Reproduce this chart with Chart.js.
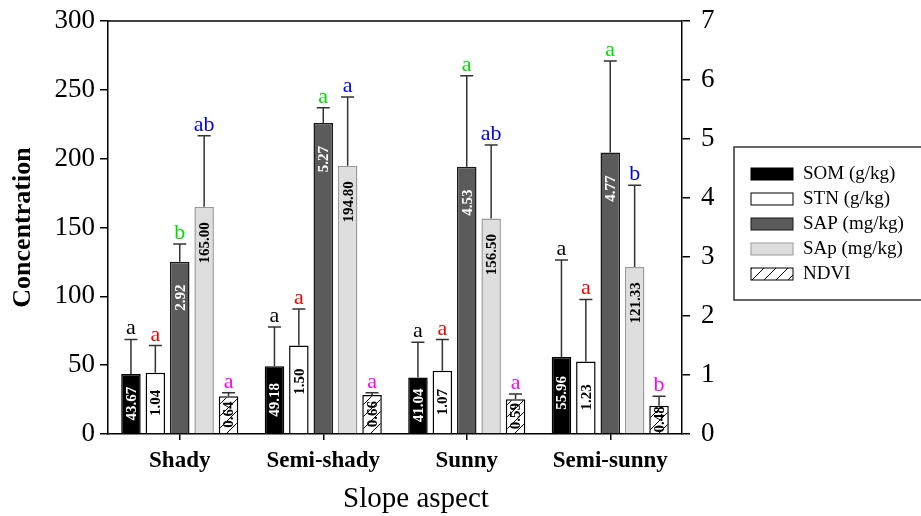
<!DOCTYPE html>
<html>
<head>
<meta charset="utf-8">
<script src="https://cdn.jsdelivr.net/npm/chart.js@4"></script>
<style>
  html, body { margin: 0; padding: 0; background: #fff; }
  #wrap { width: 921px; height: 516px; }
</style>
</head>
<body>
<div id="wrap"><canvas id="chart" width="921" height="516"></canvas></div>
<script>
// data
const categories = ['Shady', 'Semi-shady', 'Sunny', 'Semi-sunny'];

const somValues  = [43.67, 49.18, 41.04, 55.96];
const somErr     = [25.0, 28.5, 25.6, 70.4];
const stnValues  = [1.04, 1.50, 1.07, 1.23];
const stnErr     = [0.46, 0.62, 0.53, 1.05];
const sapValues  = [2.92, 5.27, 4.53, 4.77];
const sapErr     = [0.30, 0.26, 1.54, 1.55];
const sApValues  = [165.00, 194.80, 156.50, 121.33];
const sApErr     = [51.7, 50.0, 53.4, 59.3];
const ndviValues = [0.64, 0.66, 0.59, 0.48];
const ndviErr    = [0.06, 0.04, 0.09, 0.16];

const somLetters  = ['a', 'a', 'a', 'a'];
const stnLetters  = ['a', 'a', 'a', 'a'];
const sapLetters  = ['b', 'a', 'a', 'a'];
const sApLetters  = ['ab', 'a', 'ab', 'b'];
const ndviLetters = ['a', 'a', 'a', 'b'];

const leftTicks  = [0, 50, 100, 150, 200, 250, 300];
const rightTicks = [0, 1, 2, 3, 4, 5, 6, 7];

const serif = '"Liberation Serif", "DejaVu Serif", serif';

// hatch pattern for NDVI
function makeHatch() {
    const c = document.createElement('canvas');
    c.width = 12; c.height = 12;
    const g = c.getContext('2d');
    g.fillStyle = '#fff';
    g.fillRect(0, 0, 12, 12);
    g.strokeStyle = '#000';
    g.lineWidth = 1;
    g.beginPath();
    g.moveTo(0, 12); g.lineTo(12, 0);
    g.moveTo(-3, 3); g.lineTo(3, -3);
    g.moveTo(9, 15); g.lineTo(15, 9);
    g.stroke();
    return document.getElementById('chart').getContext('2d').createPattern(c, 'repeat');
}
const hatch = makeHatch();

const series = [
    { label: 'SOM (g/kg)',  data: somValues,  err: somErr,  letters: somLetters,  axis: 'y',  fill: '#000000', border: '#000000', text: '#fff', letterColor: '#000000' },
    { label: 'STN (g/kg)',  data: stnValues,  err: stnErr,  letters: stnLetters,  axis: 'y1', fill: '#ffffff', border: '#000000', text: '#000', letterColor: '#ff0000' },
    { label: 'SAP (mg/kg)', data: sapValues,  err: sapErr,  letters: sapLetters,  axis: 'y1', fill: '#5b5b5b', border: '#1a1a1a', text: '#fff', letterColor: '#00e000' },
    { label: 'SAp (mg/kg)', data: sApValues,  err: sApErr,  letters: sApLetters,  axis: 'y',  fill: '#dedede', border: '#9a9a9a', text: '#000', letterColor: '#0000ff' },
    { label: 'NDVI',        data: ndviValues, err: ndviErr, letters: ndviLetters, axis: 'y1', fill: hatch,     border: '#000000', text: '#000', letterColor: '#ff00ff' }
];

// error bars, letters, value labels, frame, legend
const decor = {
    id: 'decor',
    afterDatasetsDraw(chart) {
        const ctx = chart.ctx;
        series.forEach((s, i) => {
            const meta = chart.getDatasetMeta(i);
            const scale = chart.scales[s.axis];
            meta.data.forEach((bar, j) => {
                const top = bar.y;
                const base = bar.base;
                const h = base - top;
                // value label inside bar
                ctx.save();
                ctx.translate(bar.x, top + Math.min(36, h / 2));
                ctx.rotate(-Math.PI / 2);
                ctx.font = 'bold 15px ' + serif;
                ctx.fillStyle = s.text;
                ctx.textAlign = 'center';
                ctx.textBaseline = 'middle';
                ctx.fillText(s.data[j].toFixed(2), 0, 1);
                ctx.restore();
                // error bar (upper only)
                const yTop = scale.getPixelForValue(s.data[j] + s.err[j]);
                ctx.save();
                ctx.strokeStyle = '#333';
                ctx.lineWidth = 1.5;
                ctx.beginPath();
                ctx.moveTo(bar.x, top);
                ctx.lineTo(bar.x, yTop);
                ctx.moveTo(bar.x - 6.5, yTop);
                ctx.lineTo(bar.x + 6.5, yTop);
                ctx.stroke();
                // significance letter
                ctx.font = '22px ' + serif;
                ctx.fillStyle = s.letterColor;
                ctx.textAlign = 'center';
                ctx.textBaseline = 'alphabetic';
                ctx.fillText(s.letters[j], bar.x, yTop - 5);
                ctx.restore();
            });
        });
    },
    afterDraw(chart) {
        const ctx = chart.ctx;
        const a = chart.chartArea;
        ctx.save();
        // top frame line
        ctx.strokeStyle = '#000';
        ctx.lineWidth = 1.5;
        ctx.beginPath();
        ctx.moveTo(a.left, a.top);
        ctx.lineTo(a.right, a.top);
        ctx.stroke();

        // x axis title
        ctx.font = '29px ' + serif;
        ctx.fillStyle = '#000';
        ctx.textAlign = 'center';
        ctx.textBaseline = 'middle';
        ctx.fillText('Slope aspect', 416, 499);

        // legend
        ctx.strokeStyle = '#333';
        ctx.lineWidth = 1.5;
        ctx.strokeRect(734, 147, 200, 153);
        ctx.font = '19px ' + serif;
        ctx.textAlign = 'left';
        series.forEach((s, i) => {
            const cy = 174 + i * 25;
            ctx.fillStyle = s.fill;
            ctx.fillRect(751, cy - 6, 42, 12);
            ctx.strokeStyle = s.border;
            ctx.lineWidth = 1;
            ctx.strokeRect(751, cy - 6, 42, 12);
            ctx.fillStyle = '#000';
            ctx.fillText(s.label, 803, cy);
        });
        ctx.restore();
    }
};

const ctx = document.getElementById('chart').getContext('2d');
new Chart(ctx, {
    type: 'bar',
    data: {
        labels: categories,
        datasets: series.map(s => ({
            label: s.label,
            data: s.data,
            yAxisID: s.axis,
            backgroundColor: s.fill,
            borderColor: s.border,
            borderWidth: 1.5,
            categoryPercentage: 0.85,
            barPercentage: 0.8
        }))
    },
    options: {
        responsive: false,
        animation: false,
        layout: { padding: { left: 0, right: 0, top: 21, bottom: 0 } },
        plugins: {
            legend: { display: false },
            tooltip: { enabled: false }
        },
        scales: {
            x: {
                afterFit(scale) { scale.height = 82; scale.paddingLeft = 0; scale.paddingRight = 0; },
                grid: { display: true, drawOnChartArea: false, offset: false, tickLength: 6, color: '#000', lineWidth: 1.5 },
                border: { display: true, color: '#000', width: 1.5 },
                ticks: { color: '#000', font: { family: serif, size: 23, weight: 'bold' }, padding: 7 }
            },
            y: {
                position: 'left',
                min: 0, max: 300,
                afterFit(scale) { scale.width = 108; scale.paddingTop = 0; scale.paddingBottom = 0; },
                afterBuildTicks(scale) { scale.ticks = leftTicks.map(v => ({ value: v })); },
                grid: { display: true, drawOnChartArea: false, tickLength: 8, color: '#000', lineWidth: 1.5 },
                border: { display: true, color: '#000', width: 1.5 },
                ticks: { color: '#000', font: { family: serif, size: 27 }, padding: 5 },
                title: { display: true, text: 'Concentration', color: '#000', font: { family: serif, size: 26, weight: 'bold' }, padding: { top: 8, bottom: 0 } }
            },
            y1: {
                position: 'right',
                min: 0, max: 7,
                afterFit(scale) { scale.width = 239; scale.paddingTop = 0; scale.paddingBottom = 0; },
                afterBuildTicks(scale) { scale.ticks = rightTicks.map(v => ({ value: v })); },
                grid: { display: true, drawOnChartArea: false, tickLength: 8, color: '#000', lineWidth: 1.5 },
                border: { display: true, color: '#000', width: 1.5 },
                ticks: { color: '#000', font: { family: serif, size: 27 }, padding: 11 }
            }
        }
    },
    plugins: [decor]
});
</script>
</body>
</html>
